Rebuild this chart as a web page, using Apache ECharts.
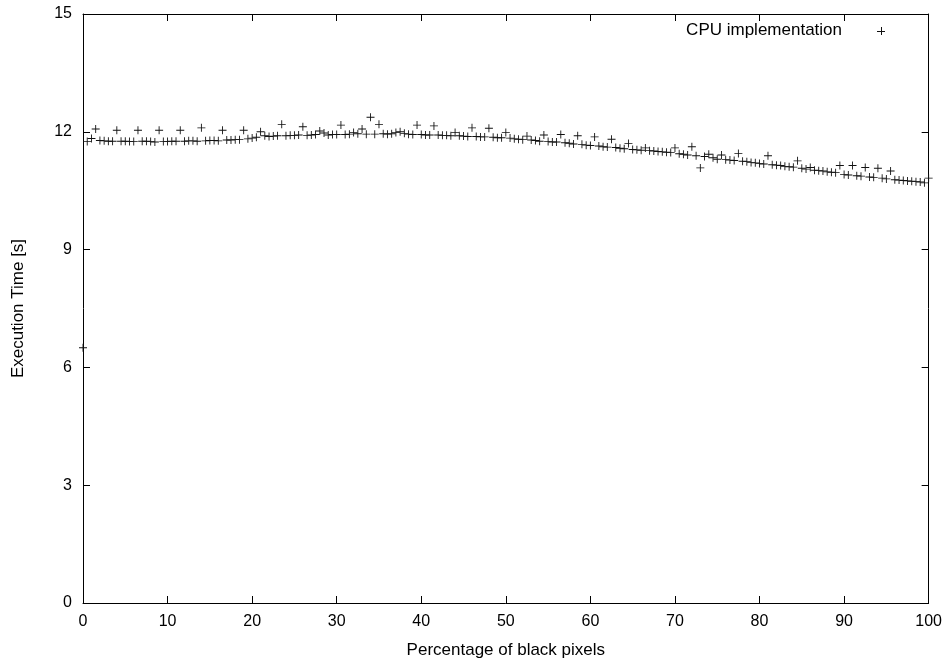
<!DOCTYPE html>
<html>
<head>
<meta charset="utf-8">
<script src="https://cdn.jsdelivr.net/npm/echarts@6/dist/echarts.min.js"></script>
<style>
  html, body { margin: 0; padding: 0; background: #fff; }
  #chart { width: 945px; height: 664px; }
</style>
</head>
<body>
<div id="chart"></div>
<script>
// percentage of black pixels (0 .. 100, step 0.5)
var blackPct = [
  0, 0.5, 1, 1.5, 2, 2.5, 3, 3.5, 4, 4.5, 5, 5.5, 6, 6.5, 7, 7.5, 8, 8.5, 9, 9.5,
  10, 10.5, 11, 11.5, 12, 12.5, 13, 13.5, 14, 14.5, 15, 15.5, 16, 16.5, 17, 17.5, 18, 18.5, 19, 19.5,
  20, 20.5, 21, 21.5, 22, 22.5, 23, 23.5, 24, 24.5, 25, 25.5, 26, 26.5, 27, 27.5, 28, 28.5, 29, 29.5,
  30, 30.5, 31, 31.5, 32, 32.5, 33, 33.5, 34, 34.5, 35, 35.5, 36, 36.5, 37, 37.5, 38, 38.5, 39, 39.5,
  40, 40.5, 41, 41.5, 42, 42.5, 43, 43.5, 44, 44.5, 45, 45.5, 46, 46.5, 47, 47.5, 48, 48.5, 49, 49.5,
  50, 50.5, 51, 51.5, 52, 52.5, 53, 53.5, 54, 54.5, 55, 55.5, 56, 56.5, 57, 57.5, 58, 58.5, 59, 59.5,
  60, 60.5, 61, 61.5, 62, 62.5, 63, 63.5, 64, 64.5, 65, 65.5, 66, 66.5, 67, 67.5, 68, 68.5, 69, 69.5,
  70, 70.5, 71, 71.5, 72, 72.5, 73, 73.5, 74, 74.5, 75, 75.5, 76, 76.5, 77, 77.5, 78, 78.5, 79, 79.5,
  80, 80.5, 81, 81.5, 82, 82.5, 83, 83.5, 84, 84.5, 85, 85.5, 86, 86.5, 87, 87.5, 88, 88.5, 89, 89.5,
  90, 90.5, 91, 91.5, 92, 92.5, 93, 93.5, 94, 94.5, 95, 95.5, 96, 96.5, 97, 97.5, 98, 98.5, 99, 99.5,
  100
];

// execution time [s], CPU implementation
var cpuTime = [
  6.5,
  11.75, 11.83, 12.07, 11.78, 11.77, 11.76, 11.76, 12.04, 11.76,
  11.76, 11.75, 11.75, 12.04, 11.76, 11.76, 11.75, 11.74, 12.04, 11.75,
  11.75, 11.76, 11.76, 12.04, 11.76, 11.77, 11.77, 11.76, 12.10, 11.77,
  11.78, 11.78, 11.77, 12.04, 11.79, 11.79, 11.80, 11.80, 12.04, 11.82,
  11.84, 11.86, 12.00, 11.90, 11.88, 11.89, 11.90, 12.19, 11.90, 11.91,
  11.91, 11.92, 12.13, 11.91, 11.92, 11.93, 12.02, 11.97, 11.92, 11.93,
  11.93, 12.17, 11.93, 11.94, 11.98, 11.95, 12.07, 11.94, 12.37, 11.94,
  12.19, 11.95, 11.94, 11.95, 11.98, 12.00, 11.96, 11.94, 11.93, 12.17,
  11.93, 11.92, 11.92, 12.15, 11.92, 11.91, 11.91, 11.90, 11.98, 11.90,
  11.89, 11.88, 12.10, 11.88, 11.87, 11.87, 12.09, 11.86, 11.85, 11.85,
  11.98, 11.84, 11.82, 11.81, 11.80, 11.89, 11.79, 11.78, 11.76, 11.92,
  11.75, 11.74, 11.74, 11.93, 11.72, 11.71, 11.69, 11.90, 11.68, 11.66,
  11.65, 11.87, 11.64, 11.62, 11.61, 11.81, 11.60, 11.58, 11.57, 11.70,
  11.55, 11.54, 11.53, 11.59, 11.52, 11.51, 11.50, 11.49, 11.48, 11.47,
  11.59, 11.44, 11.43, 11.41, 11.62, 11.39, 11.08, 11.37, 11.43, 11.34,
  11.30, 11.41, 11.29, 11.28, 11.27, 11.45, 11.25, 11.24, 11.22, 11.21,
  11.19, 11.18, 11.39, 11.16, 11.15, 11.14, 11.12, 11.11, 11.10, 11.26,
  11.07, 11.05, 11.09, 11.02, 11.01, 11.00, 10.98, 10.97, 10.96, 11.14,
  10.91, 10.90, 11.14, 10.88, 10.87, 11.09, 10.85, 10.84, 11.07, 10.82,
  10.80, 11.00, 10.78, 10.77, 10.76, 10.75, 10.74, 10.73, 10.72, 10.70,
  10.82
];

var xTicks = [0, 10, 20, 30, 40, 50, 60, 70, 80, 90, 100];
var yTicks = [0, 3, 6, 9, 12, 15];
var seriesName = 'CPU implementation';

var points = blackPct.map(function (x, i) { return [x, cpuTime[i]]; });

var crossPath = 'path://M4,0H5V9H4ZM0,4H9V5H0Z';
var font = 'Liberation Sans, Arial, sans-serif';
var fs = 16;   // tick labels
var fsName = 17; // axis titles, key

var chart = echarts.init(document.getElementById('chart'), null, { renderer: 'canvas' });

function boxAxis(showLabel, extra) {
  var a = {
    axisLine: { show: true, onZero: false, lineStyle: { color: '#000', width: 1 } },
    axisTick: { show: true, inside: true, length: 7, lineStyle: { color: '#000', width: 1 } },
    axisLabel: { show: showLabel, color: '#000', fontSize: fs, fontFamily: font },
    splitLine: { show: false }
  };
  for (var k in extra) a[k] = extra[k];
  return a;
}

chart.setOption({
  animation: false,
  backgroundColor: '#fff',
  grid: { left: 83, right: 15, top: 14, bottom: 61 },
  xAxis: [
    boxAxis(true, {
      type: 'value', position: 'bottom',
      min: xTicks[0], max: xTicks[xTicks.length - 1], interval: 10,
      name: 'Percentage of black pixels', nameLocation: 'middle', nameGap: 39,
      nameTextStyle: { color: '#000', fontSize: fsName, fontFamily: font },
      axisLabel: { show: true, color: '#000', fontSize: fs, fontFamily: font, margin: 11 }
    }),
    boxAxis(false, {
      type: 'value', position: 'top',
      min: xTicks[0], max: xTicks[xTicks.length - 1], interval: 10
    })
  ],
  yAxis: [
    boxAxis(true, {
      type: 'value', position: 'left',
      min: yTicks[0], max: yTicks[yTicks.length - 1], interval: 3,
      name: 'Execution Time [s]', nameLocation: 'middle', nameGap: 56,
      nameTextStyle: { color: '#000', fontSize: fsName, fontFamily: font },
      axisLabel: { show: true, color: '#000', fontSize: fs, fontFamily: font, margin: 11 }
    }),
    boxAxis(false, {
      type: 'value', position: 'right',
      min: yTicks[0], max: yTicks[yTicks.length - 1], interval: 3
    })
  ],
  series: [{
    name: seriesName,
    type: 'scatter',
    xAxisIndex: 0,
    yAxisIndex: 0,
    data: points,
    symbol: crossPath,
    symbolSize: 8,
    itemStyle: { color: '#111', opacity: 1 },
    silent: true
  }],
  graphic: [
    {
      type: 'text', right: 103, top: 22,
      style: { text: seriesName, fill: '#000', font: fsName + 'px ' + font, textAlign: 'right' }
    },
    {
      type: 'rect', left: 877, top: 31, silent: true,
      shape: { x: 0, y: 0, width: 8, height: 1 },
      style: { fill: '#111' }
    },
    {
      type: 'rect', left: 881, top: 27, silent: true,
      shape: { x: 0, y: 0, width: 1, height: 8 },
      style: { fill: '#111' }
    }
  ]
});
</script>
</body>
</html>
